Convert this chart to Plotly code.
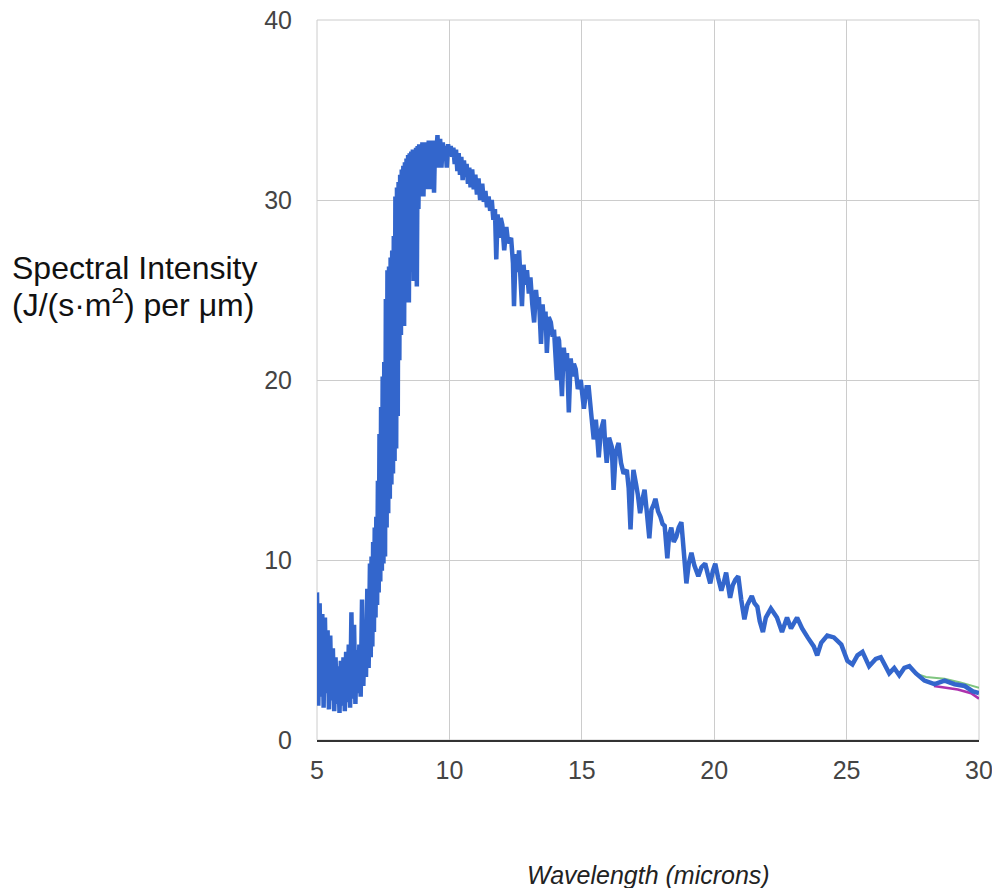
import plotly.graph_objects as go

# Wavelength (microns) and spectral intensity
wavelength = [
    5.00, 5.05, 5.10, 5.15, 5.20, 5.25, 5.30, 5.35, 5.40, 5.45, 5.50, 5.55, 5.60, 5.65, 5.70,
    5.75, 5.80, 5.85, 5.90, 5.95, 6.00, 6.05, 6.10, 6.15, 6.20, 6.25, 6.30, 6.35, 6.40, 6.45,
    6.50, 6.55, 6.60, 6.65, 6.70, 6.75, 6.80, 6.85, 6.90, 6.95,
    7.00, 7.03, 7.06, 7.09, 7.12, 7.15, 7.18, 7.21, 7.24, 7.27, 7.30, 7.33, 7.36, 7.39, 7.42,
    7.45, 7.48, 7.51, 7.54, 7.57, 7.60, 7.63, 7.66, 7.69, 7.72, 7.75, 7.78, 7.81, 7.84, 7.87,
    7.90, 7.93, 7.96, 7.99, 8.02, 8.05, 8.08, 8.11, 8.14, 8.17, 8.20, 8.23, 8.26, 8.29, 8.32,
    8.35, 8.38, 8.41, 8.44, 8.47, 8.50,
    8.53, 8.56, 8.59, 8.62, 8.65, 8.68, 8.71, 8.74, 8.77, 8.80, 8.83, 8.86, 8.89, 8.92, 8.95, 8.98,
    9.02, 9.06, 9.10, 9.14, 9.18, 9.22, 9.26, 9.30, 9.34, 9.38, 9.42, 9.46, 9.50, 9.55, 9.60,
    9.65, 9.70, 9.75, 9.80, 9.85, 9.90, 9.95, 10.00, 10.05, 10.10, 10.15,
    10.20, 10.25, 10.30, 10.35, 10.40, 10.45, 10.50, 10.55, 10.60, 10.65, 10.70, 10.75, 10.80,
    10.86, 10.92, 10.98, 11.04, 11.10, 11.16, 11.24, 11.30, 11.36, 11.42, 11.48, 11.54, 11.60,
    11.66, 11.72, 11.77, 11.82, 11.88, 11.94,
    12.00, 12.07, 12.15, 12.22, 12.33, 12.40, 12.44, 12.50, 12.57, 12.63, 12.69, 12.74, 12.80,
    12.86, 12.93, 13.00, 13.06, 13.13, 13.20, 13.27, 13.33, 13.38, 13.46, 13.52, 13.58, 13.63,
    13.68, 13.75, 13.83, 13.90, 13.95, 14.06, 14.10, 14.14, 14.25, 14.32, 14.40, 14.44, 14.51,
    14.58, 14.65, 14.70, 14.77, 14.85, 14.96,
    15.02, 15.08, 15.18, 15.26, 15.35, 15.45, 15.53, 15.58, 15.64, 15.72, 15.83, 15.88, 15.94,
    16.03, 16.13, 16.20, 16.28, 16.39, 16.48, 16.58, 16.70, 16.77, 16.84, 16.90, 16.95, 17.05,
    17.12, 17.20, 17.28, 17.37, 17.46, 17.55, 17.63, 17.72, 17.78, 17.88, 17.97, 18.05, 18.13,
    18.23, 18.30, 18.38, 18.47, 18.57, 18.66, 18.76, 18.85, 18.95, 19.04, 19.14, 19.25, 19.40,
    19.52, 19.66, 19.76, 19.85, 19.95, 20.04, 20.15, 20.27, 20.37, 20.45, 20.60, 20.70, 20.80,
    20.91, 21.02, 21.14, 21.25, 21.42, 21.52, 21.63, 21.72, 21.84, 21.95, 22.14,
    22.37, 22.56, 22.75, 22.90, 23.13,
    23.32, 23.53, 23.76, 23.89, 24.04, 24.27, 24.52, 24.80, 25.03, 25.22, 25.41, 25.60, 25.85,
    26.10, 26.29, 26.61, 26.80, 26.99, 27.18, 27.37, 27.62, 27.94, 28.32, 28.70, 29.08, 29.46,
    29.77, 30.00,
]

intensity = [
    8.2, 1.9, 7.6, 2.4, 7.0, 1.8, 6.8, 2.6, 6.1, 1.7, 5.8, 2.2, 5.1, 1.6, 4.6,
    2.0, 4.1, 1.5, 4.4, 1.9, 4.6, 1.6, 4.9, 2.1, 5.3, 1.8, 7.1, 2.3, 6.4, 2.0,
    5.0, 2.6, 5.3, 2.4, 7.8, 3.0, 6.6, 3.5, 8.4, 4.0,
    9.8, 4.6, 10.2, 5.2, 11.0, 6.0, 11.8, 6.8, 12.4, 7.5, 14.4, 8.2, 17.0, 8.8, 18.5,
    9.4, 20.2, 9.8, 21.0, 10.2, 24.5, 11.8, 26.1, 12.6, 26.3, 13.4, 26.8, 14.2, 27.2, 14.8,
    28.0, 15.5, 30.2, 16.2, 30.7, 18.0, 31.0, 21.1, 31.4, 22.5, 31.7, 24.3, 31.9, 23.0, 32.1,
    24.3, 32.3, 24.8, 32.5, 24.3, 32.6,
    26.0, 32.7, 27.5, 32.8, 25.5, 32.8, 28.0, 32.9, 25.2, 33.0, 29.5, 33.1, 30.2, 33.1, 30.5, 33.2,
    30.2, 33.2, 30.6, 33.2, 31.0, 33.3, 30.6, 33.2, 31.5, 33.3, 30.4, 33.3, 32.5, 33.6, 31.8,
    33.4, 31.8, 33.2, 32.2, 33.0, 31.8, 33.1, 32.5, 33.0, 32.4, 32.9,
    32.0, 32.8, 31.6, 32.6, 31.4, 32.4, 31.1, 32.2, 31.3, 32.0, 30.9, 31.8, 30.7,
    31.7, 30.6, 31.4, 30.3, 31.2, 30.0, 30.9, 29.9, 30.5, 29.6, 30.2, 29.4, 30.0,
    28.9, 29.5, 26.7, 29.2, 27.9, 29.0,
    28.6, 27.2, 28.5, 27.6, 27.9, 26.5, 24.1, 27.0, 26.0, 27.2, 25.5, 24.1, 26.4,
    25.3, 26.1, 24.8, 25.7, 24.2, 23.2, 25.0, 24.0, 24.6, 22.0, 24.2, 23.0, 23.8,
    21.5, 23.5, 23.2, 22.4, 22.8, 20.0, 22.4, 22.2, 19.1, 21.8, 20.5, 21.5, 18.2,
    21.2, 20.2, 20.9, 20.6, 19.5, 20.0,
    19.2, 18.4, 19.6, 19.6, 18.2, 16.7, 17.8, 16.9, 15.7, 17.2, 17.8, 16.5, 15.4,
    16.8, 16.3, 13.9, 16.0, 16.5, 15.4, 14.8, 15.0, 14.0, 11.7, 13.8, 15.0, 14.2,
    13.6, 12.6, 13.3, 13.9, 12.6, 11.2, 12.8, 13.1, 13.4, 12.7, 12.4, 12.0, 11.9,
    10.1, 11.4, 11.8, 11.0, 11.3, 11.8, 12.1, 10.5, 8.7, 9.8, 10.4, 9.7, 9.1,
    9.6, 9.8, 9.2, 8.7, 9.4, 9.8, 9.0, 8.3, 8.8, 9.3, 7.9, 8.6, 8.9,
    9.1, 7.8, 6.7, 7.5, 8.0, 7.6, 7.4, 6.6, 6.0, 6.8, 7.3,
    6.8, 6.0, 6.8, 6.2, 6.8,
    6.2, 5.7, 5.2, 4.7, 5.4, 5.8, 5.7, 5.3, 4.4, 4.2, 4.7, 4.9, 4.1,
    4.5, 4.6, 3.7, 4.0, 3.6, 4.0, 4.1, 3.7, 3.3, 3.1, 3.3, 3.1, 3.0,
    2.7, 2.6,
]

# faint companion series visible at the right end, partly hidden under the blue line
green_wavelength = [27.6, 28.0, 28.7, 29.3, 30.0]
green_intensity = [3.7, 3.5, 3.4, 3.2, 2.9]
purple_wavelength = [28.3, 28.8, 29.2, 29.7, 30.0]
purple_intensity = [3.0, 2.9, 2.8, 2.6, 2.3]

x_ticks = [5, 10, 15, 20, 25, 30]
y_ticks = [0, 10, 20, 30, 40]

FONT = "Liberation Sans, Arial, sans-serif"

fig = go.Figure()
fig.add_trace(go.Scatter(
    x=green_wavelength, y=green_intensity, mode="lines",
    line=dict(color="#2ca02c", width=2), opacity=0.6,
    hoverinfo="skip", showlegend=False,
))
fig.add_trace(go.Scatter(
    x=purple_wavelength, y=purple_intensity, mode="lines",
    line=dict(color="#990099", width=2.5), opacity=0.8,
    hoverinfo="skip", showlegend=False,
))
fig.add_trace(go.Scatter(
    x=wavelength, y=intensity, mode="lines",
    line=dict(color="#3366cc", width=4.5, simplify=False),
    hoverinfo="skip", showlegend=False,
))

tick_font = dict(family=FONT, size=25, color="#444444")

W, H = 992, 888
ML, MR, MT, MB = 317, 13, 20, 148
plot_w = W - ML - MR
plot_h = H - MT - MB


def py(pix):
    """page pixel row -> paper y"""
    return (H - MB - pix) / plot_h


def px(pix):
    """page pixel column -> paper x"""
    return (pix - ML) / plot_w


fig.update_layout(
    width=W, height=H,
    margin=dict(l=ML, r=MR, t=MT, b=MB, autoexpand=False),
    paper_bgcolor="white", plot_bgcolor="white",
    xaxis=dict(
        range=[5, 30], tickvals=x_ticks, ticktext=[str(v) for v in x_ticks],
        showgrid=True, gridcolor="#cccccc", gridwidth=1,
        showline=True, linecolor="#333333", linewidth=2,
        zeroline=False, ticks="", tickfont=tick_font, ticklabelstandoff=7,
        ticklabeloverflow="allow", automargin=False,
    ),
    yaxis=dict(
        range=[0, 40], tickvals=y_ticks, ticktext=[str(v) for v in y_ticks],
        showgrid=True, gridcolor="#cccccc", gridwidth=1,
        showline=False,
        zeroline=False, ticks="", tickfont=tick_font, ticklabelstandoff=24,
        ticklabeloverflow="allow", automargin=False,
    ),
    shapes=[
        dict(type="rect", xref="paper", yref="paper", x0=0, x1=1, y0=0, y1=1,
             line=dict(color="#cccccc", width=1), layer="below"),
    ],
    annotations=[
        dict(text="Spectral Intensity", xref="paper", yref="paper",
             x=px(10), y=py(268), xanchor="left", yanchor="middle",
             showarrow=False, font=dict(family=FONT, size=32, color="#111111")),
        dict(text="(J/(s·m<sup>2</sup>) per μm)", xref="paper", yref="paper",
             x=px(10), y=py(303), xanchor="left", yanchor="middle",
             showarrow=False, font=dict(family=FONT, size=32, color="#111111")),
        dict(text="<i>Wavelength (microns)</i>", xref="paper", yref="paper",
             x=0.5, y=py(875), xanchor="center", yanchor="middle",
             showarrow=False, font=dict(family=FONT, size=25, color="#222222")),
    ],
)

# remove the browser's default 8px body margin so the figure fills the window
fig.write_html(
    "out.html",
    config={"displayModeBar": False},
    post_script="document.body.style.margin='0px';",
)
